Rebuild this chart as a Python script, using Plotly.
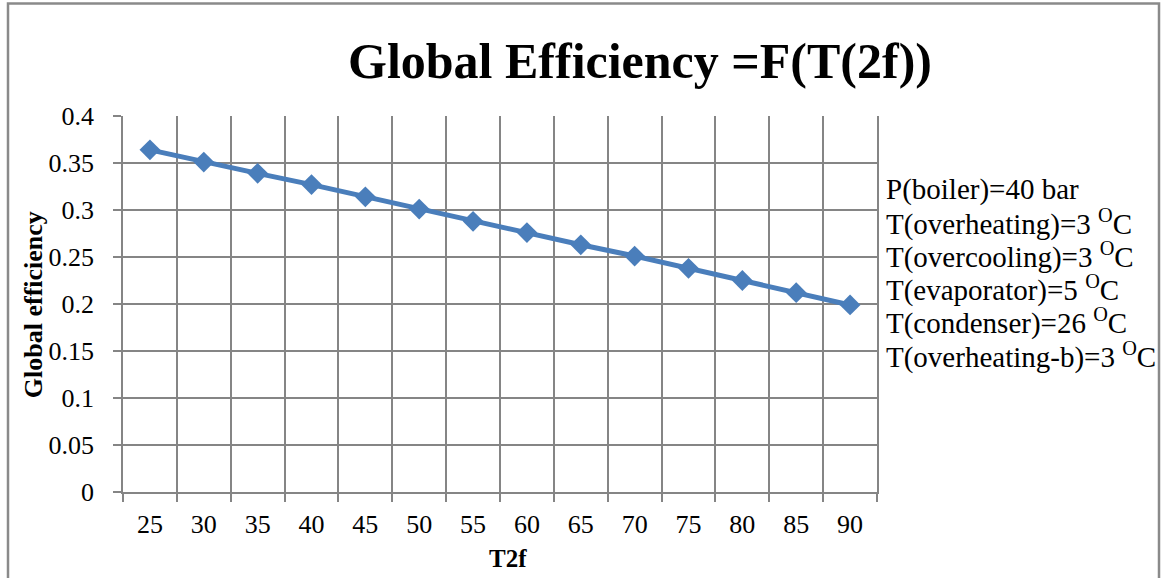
import plotly.graph_objects as go

# ---- data ----
t2f = ["25", "30", "35", "40", "45", "50", "55", "60", "65", "70", "75", "80", "85", "90"]
global_eff = [0.364, 0.351, 0.339, 0.327, 0.314, 0.301, 0.288, 0.276, 0.263, 0.251, 0.238, 0.225, 0.212, 0.199]
y_tickvals = [0, 0.05, 0.1, 0.15, 0.2, 0.25, 0.3, 0.35, 0.4]
y_ticktext = ["0", "0.05", "0.1", "0.15", "0.2", "0.25", "0.3", "0.35", "0.4"]
info_lines = [
    "P(boiler)=40 bar",
    "T(overheating)=3 <sup>O</sup>C",
    "T(overcooling)=3 <sup>O</sup>C",
    "T(evaporator)=5 <sup>O</sup>C",
    "T(condenser)=26 <sup>O</sup>C",
    "T(overheating-b)=3 <sup>O</sup>C",
]
title_text = "Global Efficiency =F(T(2f))"
x_title = "T2f"
y_title = "Global efficiency"

# ---- layout geometry (pixels) ----
W, H = 1161, 578
L, R, T, B = 123, 877, 115.7, 492
pw, ph = R - L, B - T

def px(x):
    return (x - L) / pw

def py(y):
    return (B - y) / ph

FONT = "Liberation Serif, Times New Roman, serif"
GRID = "#858585"
BLUE = "#4A7EBB"

fig = go.Figure()
fig.add_trace(go.Scatter(
    x=t2f, y=global_eff, mode="lines+markers",
    line=dict(color=BLUE, width=5),
    marker=dict(symbol="diamond", size=16, color=BLUE),
    showlegend=False,
))

annotations = []
# info lines on the right
for i, line in enumerate(info_lines):
    annotations.append(dict(
        text=line, xref="paper", yref="paper",
        x=px(884), y=py(189 + i * 33.2), xanchor="left", yanchor="middle",
        showarrow=False, font=dict(family=FONT, size=29, color="black"),
    ))
# axis titles
annotations.append(dict(
    text="<b>%s</b>" % y_title, xref="paper", yref="paper",
    x=px(33), y=py(305), xanchor="center", yanchor="middle", textangle=-90,
    showarrow=False, font=dict(family=FONT, size=26, color="black"),
))
annotations.append(dict(
    text="<b>%s</b>" % x_title, xref="paper", yref="paper",
    x=px(508), y=py(559), xanchor="center", yanchor="middle",
    showarrow=False, font=dict(family=FONT, size=25, color="black"),
))
# chart title
annotations.append(dict(
    text="<b>%s</b>" % title_text, xref="paper", yref="paper",
    x=px(640), y=py(61), xanchor="center", yanchor="middle",
    showarrow=False, font=dict(family=FONT, size=50, color="black"),
))

fig.update_layout(
    width=W, height=H,
    margin=dict(l=L, r=W - R, t=T, b=H - B, pad=0),
    paper_bgcolor="white", plot_bgcolor="white",
    font=dict(family=FONT, color="black"),
    annotations=annotations,
    shapes=[dict(
        type="rect", xref="paper", yref="paper",
        x0=px(8), x1=px(1159), y0=py(3), y1=py(600),
        line=dict(color="#8a8a8a", width=2.5), fillcolor="rgba(0,0,0,0)", layer="below",
    )],
    xaxis=dict(
        type="category", tickson="boundaries", ticks="outside", ticklen=8,
        tickcolor=GRID, tickwidth=1.7,
        showgrid=True, gridcolor=GRID, gridwidth=1.7,
        showline=True, linecolor=GRID, linewidth=1.7,
        range=[-0.5, len(t2f) - 0.5],
        tickfont=dict(family=FONT, size=26, color="black"),
        ticklabelstandoff=8,
    ),
    yaxis=dict(
        range=[0, 0.4], tickvals=y_tickvals, ticktext=y_ticktext,
        ticks="outside", ticklen=8, tickcolor=GRID, tickwidth=1.7,
        showgrid=True, gridcolor=GRID, gridwidth=1.7,
        showline=True, linecolor=GRID, linewidth=1.7, mirror=True,
        zeroline=False,
        tickfont=dict(family=FONT, size=26, color="black"),
        ticklabelstandoff=14,
    ),
)

fig.write_html("out.html")
